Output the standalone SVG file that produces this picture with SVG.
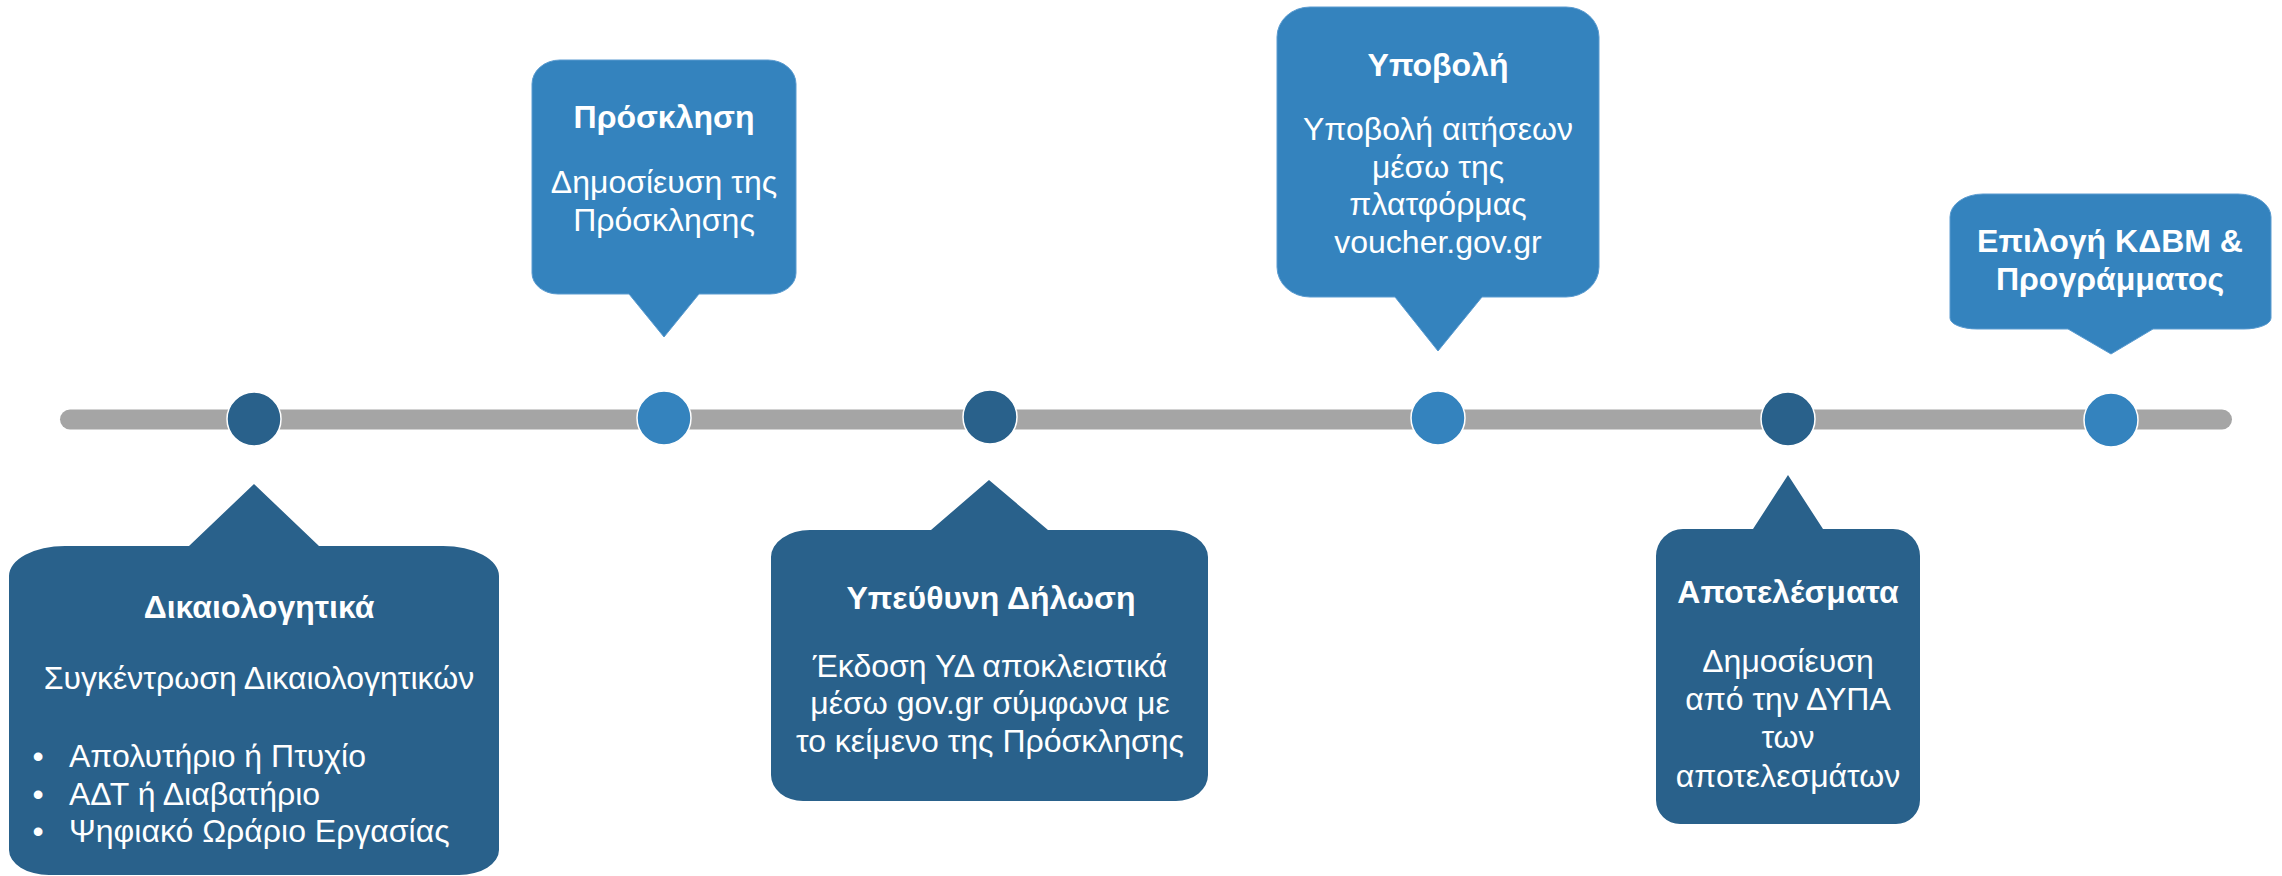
<svg xmlns="http://www.w3.org/2000/svg" width="2282" height="876" viewBox="0 0 2282 876">
<style>
.dark{fill:#29618B;}
.light{fill:#3483BE;stroke:#5a9bd0;stroke-width:1;}
.dot{stroke:#ffffff;stroke-width:1.5;}
text{font-family:"Liberation Sans",Arial,sans-serif;fill:#ffffff;}
.t{font-size:32px;font-weight:bold;text-anchor:middle;}
.b{font-size:32px;text-anchor:middle;}
.l{font-size:32px;}
.bul{font-size:32px;text-anchor:middle;}
</style>
<rect width="2282" height="876" fill="#ffffff"/>
<g id="connectors">
<line x1="70" y1="419.5" x2="2222" y2="419.5" stroke="#A5A5A5" stroke-width="20" stroke-linecap="round"/>
</g>
<g id="milestones">
<circle class="dark dot" cx="254" cy="419" r="27"/>
<circle class="light dot" cx="664" cy="418" r="27"/>
<circle class="dark dot" cx="990" cy="417" r="27"/>
<circle class="light dot" cx="1438" cy="418" r="27"/>
<circle class="dark dot" cx="1788" cy="419" r="27"/>
<circle class="light dot" cx="2111" cy="420" r="27"/>
</g>
<g id="node-dikaiologitika">
<path class="dark" d="M9 576 A56 30 0 0 1 65 546 L189 546 L254 484 L319 546 L443 546 A56 30 0 0 1 499 576 L499 850 A40 25 0 0 1 459 875 L49 875 A40 25 0 0 1 9 850 Z"/>
<text class="t" x="259" y="618">Δικαιολογητικά</text>
<text class="b" x="259" y="689">Συγκέντρωση Δικαιολογητικών</text>
<text class="bul" x="38" y="767">•</text>
<text class="bul" x="38" y="805">•</text>
<text class="bul" x="38" y="842">•</text>
<text class="l" x="69" y="767">Απολυτήριο ή Πτυχίο</text>
<text class="l" x="69" y="805">ΑΔΤ ή Διαβατήριο</text>
<text class="l" x="69" y="842">Ψηφιακό Ωράριο Εργασίας</text>
</g>
<g id="node-prosklisi">
<path class="light" d="M532 84 A28 24 0 0 1 560 60 L768 60 A28 24 0 0 1 796 84 L796 273 A26 21 0 0 1 770 294 L699 294 L664 337 L629 294 L558 294 A26 21 0 0 1 532 273 Z"/>
<text class="t" x="664" y="128">Πρόσκληση</text>
<text class="b" x="664" y="193">Δημοσίευση της</text>
<text class="b" x="664" y="231">Πρόσκλησης</text>
</g>
<g id="node-ypeuthyni">
<path class="dark" d="M771 557 A39 27 0 0 1 810 530 L931 530 L989 480 L1048 530 L1169 530 A39 27 0 0 1 1208 557 L1208 775 A32 26 0 0 1 1176 801 L803 801 A32 26 0 0 1 771 775 Z"/>
<text class="t" x="991" y="609">Υπεύθυνη Δήλωση</text>
<text class="b" x="990" y="677">Έκδοση ΥΔ αποκλειστικά</text>
<text class="b" x="990" y="714">μέσω gov.gr σύμφωνα με</text>
<text class="b" x="990" y="752">το κείμενο της Πρόσκλησης</text>
</g>
<g id="node-ypovoli">
<path class="light" d="M1277 37 A33 30 0 0 1 1310 7 L1566 7 A33 30 0 0 1 1599 37 L1599 267 A33 30 0 0 1 1566 297 L1482 297 L1438 351 L1395 297 L1310 297 A33 30 0 0 1 1277 267 Z"/>
<text class="t" x="1438" y="76">Υποβολή</text>
<text class="b" x="1438" y="140">Υποβολή αιτήσεων</text>
<text class="b" x="1438" y="177.5">μέσω της</text>
<text class="b" x="1438" y="215">πλατφόρμας</text>
<text class="b" x="1438" y="252.5">voucher.gov.gr</text>
</g>
<g id="node-apotelesmata">
<path class="dark" d="M1656 556 A27 27 0 0 1 1683 529 L1753 529 L1788 475 L1823 529 L1893 529 A27 27 0 0 1 1920 556 L1920 800 A24 24 0 0 1 1896 824 L1680 824 A24 24 0 0 1 1656 800 Z"/>
<text class="t" x="1788" y="603">Αποτελέσματα</text>
<text class="b" x="1788" y="672">Δημοσίευση</text>
<text class="b" x="1788" y="710">από την ΔΥΠΑ</text>
<text class="b" x="1788" y="748">των</text>
<text class="b" x="1788" y="787">αποτελεσμάτων</text>
</g>
<g id="node-epilogi">
<path class="light" d="M1950 217 A33 23 0 0 1 1983 194 L2238 194 A33 23 0 0 1 2271 217 L2271 318 A27 11 0 0 1 2244 329 L2153 329 L2111 354 L2068 329 L1977 329 A27 11 0 0 1 1950 318 Z"/>
<text class="t" x="2110" y="252">Επιλογή ΚΔΒΜ &amp;</text>
<text class="t" x="2110" y="290">Προγράμματος</text>
</g>
</svg>
